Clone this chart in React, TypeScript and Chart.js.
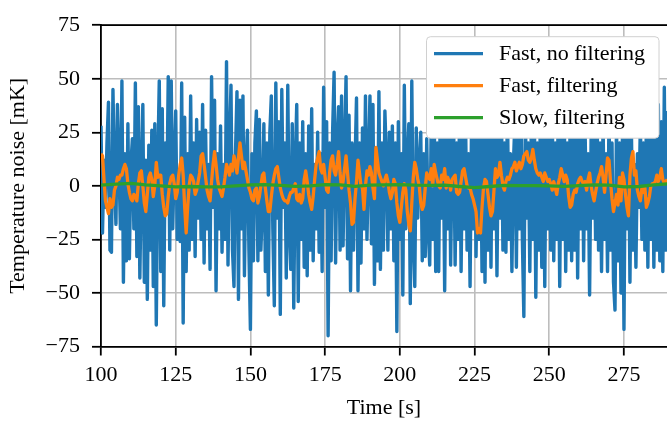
import React, { useEffect, useRef } from 'react';
import { Chart, registerables } from 'chart.js';

Chart.register(...registerables);

// Sampling grid of the recordings (seconds)
const T_START = 100;
const FAST_STEP = 0.5;
const SLOW_STEP = 5;
const X_MIN = 100;
const X_MAX = 289.4;
const X_TICK_STEP = 25;
const Y_MIN = -75;
const Y_MAX = 75;
const Y_TICK_STEP = 25;

const SERIES_LABELS = ['Fast, no filtering', 'Fast, filtering', 'Slow, filtering'];
const SERIES_COLORS = ['#1f77b4', '#ff7f0e', '#2ca02c'];
const X_TITLE = 'Time [s]';
const Y_TITLE = 'Temperature noise [mK]';

// Fast sampling, no filtering (mK), every 0.5 s from 100 s
const fastNoFiltering = [
  28, -22, 12, -10, 20, 39, -30, -31, 45, 5,
  -18, 38, 10, -20, 49, -45, 15, -35, 29, -34,
  10, 22, -20, 48, -33, 37, -43, 5, 38, -45,
  12, -53, 19, -30, 26, -47, 29, -65, 10, 49,
  -40, 36, -56, 20, -10, 51, -30, 49, -20, 10,
  35, -25, 5, -26, 48, -64, 32, -40, 15, -30,
  42, -25,
  20, -33, 31, -15, 25, -25, 38, -36, 26, -20,
  10, -39, 51, -10, 40, -49, 15, -20, 28, -31,
  10, -25, 58, -37, 20, 47, -30, -47, 15, 44,
  -53, 40, -20, 42, -42, 10, 26, -30, -67, 15,
  -35, 20, 35, -35, 31, -30, -10, 29, -40, 20,
  -51, 25, 42, -20, -56, 48, -15, 30, -60, 45,
  -10, 20, -43, 47, -20,
  -39, 29, -57, 10, 38, -54, 20, -25, 30, -38,
  15, -42, 28, -30, 36, -35, 10, -20, 25, -31,
  15, -40, 46, -10, 30, -70, 20, -35, 25, 53,
  -36, 20, 37, -30, 42, -28, 15, 51, -34, 33,
  -49, 20, -30, 10, 41, -49, 20, -36, 27, -20,
  42, -25, 10, 42, -27, 38, -46, 15, -35, 44,
  -39, 20, -30, 35,
  12, -30, 25, -20, 28, -35, 20, -68, 30, -25,
  15, -51, 47, -20, 10, 29, -55, 49, -25, -47,
  27, -15, 10, 25, -35, 15, -33, 22, -20, -37,
  30, -25, 35, -40, 20, -40, 33, -15, 28, -49,
  25, -20, 40, -37, 15, 30, -37, 20, -25, 36,
  -40, 25, -20, 30, -30, 15, -47, 30, -20, 38,
  -33, 25, -25, 30,
  -40, 30, -45, 35, -30, 25, -38, 40, -20, 30,
  -42, 28, -15, 35, -30, 20, -31, 38, -25, 15,
  -40, 10, 30, -38, 33, -20, 40, -25, -61, 35,
  -15, 20, -40, 30, -25, 38, -52, 20, -30, 30,
  -38, 25, -47, 38, -20, 30, -30, 36, -35, 20,
  -25, 35, -47, 30, -25, 40, -40, 20, -30, 32,
  -35, 25, -30, 35,
  -43, 30, -20, 35, -35, 25, -20, 15, -51, 22,
  -15, 30, -25, 35, -30, 20, -40, 30, -25, 15,
  -40, 35, -30, 20, -45, -58, 30, -35, 20, -50,
  25, -67, 30, -20, 35, -45, 25, -30, 10, -38,
  15, -10, 30, -25, 20, -30, 30, -38, 35, -25,
  40, -38, 25, -30, 38, -35, 30, -40, 46, -30,
  35,
];

// Fast sampling, filtering (mK), every 0.5 s from 100 s
const fastFiltering = [
  15, 14, 3, -7, -10, -13, -6, -10, -9, -2,
  0, 4, 3, 5, 5, 8, 10, 8, 1, -3,
  -6, -7, -4, -5, -7, 1, 6, 7, 0, -8,
  -12, -4, 4, 6, 3, -5, 0, 11, 4, 5,
  5, -4, -10, -14, -13, -5, 1, 4, 5, 1,
  -6, -3, 5, 10, 13, 5, -10, -22, -10, 0,
  5, 4,
  2, -4, -2, 2, 6, 14, 15, 10, 4, -2,
  -5, -7, 2, 10, 16, 10, 3, -1, -3, -5,
  -1, 4, 10, 8, 5, 10, 7, 14, 11, 6,
  13, 20, 14, 8, 11, 7, 3, -1, -3, -6,
  -7, -2, -1, -8, -5, 0, 5, 6, -1, -7,
  -12, -12, -5, 1, 5, 8, 9, 4, -1, -4,
  -6, -7, -7, -8, -5,
  -3, -3, -1, 1, -6, -7, -4, -8, -6, 3,
  7, 2, -4, -8, -11, -5, 3, 10, 13, 16,
  8, 6, 10, 4, -2, -3, 6, 12, 14, 7,
  5, 10, 16, 6, -1, 2, 8, 14, 6, -2,
  -8, -18, -17, -6, 2, 12, 6, 0, -1, -11,
  0, 7, 5, 9, 6, -1, -6, 18, 12, 6,
  4, 2, 0, 3,
  5, 2, -3, -6, -3, 3, 1, -8, -14, -17,
  -10, -3, 1, -2, -12, -18, -21, -8, 4, 11,
  8, 3, 0, -8, -11, -9, -1, 6, 4, 3,
  8, 0, 10, 6, 3, 0, -1, 5, 3, 8,
  -1, 4, 2, -2, 3, 4, 5, -3, -4, -3,
  2, 7, 8, 4, 0, -1, -1, -4, -6, -9,
  -12, -22, -20, -22,
  -10, -1, 3, 2, -4, -10, -14, -12, -2, 8,
  4, 5, 11, 5, 0, -2, 2, 4, 3, 5,
  8, 9, 11, 7, 9, 11, 8, 10, 14, 15,
  16, 12, 11, 13, 17, 12, 8, 6, 5, 6,
  4, 2, 6, 4, 2, 3, 1, -2, 2, -1,
  -4, 1, 4, 8, 5, 2, 5, 3, -5, -10,
  -9, -4, -2, -3,
  1, 3, 4, 2, 1, 2, -2, 3, 6, 0,
  -4, -7, -3, 1, 4, 6, 9, 4, -3, 5,
  13, 12, 2, -6, -12, -8, -4, -9, 4, -7,
  6, 3, -4, -10, -14, 5, 13, 16, 5, 7,
  -2, -5, -7, -1, -3, -1, -10, -8, -5, 0,
  1, 1, 2, 5, 2, 4, 8, 3, 1, 2,
  3,
];

// Slow sampling, filtering (mK), every 5 s from 100 s
const slowFiltering = [
  0.3, 0.8, 1.2, 0.5, 0, -0.5, -0.3, -0.5, -0.5, 0,
  0.5, 0.6, 0.2, -0.2, 0, 0.6, 0.5, -0.2, 0.3, 0.5,
  0.6, 0.3, 0.2, 0.3, -0.3, -0.8, -0.3, 0.2, 0.1, 0.1,
  0, -0.2, 0.1, 0.5, 0.3, -0.5, -0.3, 0.5, 1.0,
];

const FONT_FAMILY = "'Liberation Serif', 'DejaVu Serif', serif";
const FONT_SIZE = 22;

const toPoints = (values: number[], step: number) =>
  values.map((v, i) => ({ x: T_START + i * step, y: v }));

const fmtTick = (v: number | string) => {
  const n = Number(v);
  return n < 0 ? '\u2212' + Math.abs(n) : String(n);
};

const overlayPlugin = {
  id: 'overlay',
  afterDatasetsDraw(chart: any) {
    const { ctx, chartArea } = chart;
    ctx.save();
    // top spine
    ctx.strokeStyle = '#000';
    ctx.lineWidth = 1.8;
    ctx.beginPath();
    ctx.moveTo(chartArea.left - 0.9, chartArea.top);
    ctx.lineTo(chartArea.right, chartArea.top);
    ctx.stroke();

    // legend box
    const w = 232.5;
    const h = 101.5;
    const x = chartArea.right - 8 - w;
    const y = chartArea.top + 11.5;
    ctx.beginPath();
    if (ctx.roundRect) ctx.roundRect(x, y, w, h, 4);
    else ctx.rect(x, y, w, h);
    ctx.fillStyle = '#ffffff';
    ctx.fill();
    ctx.strokeStyle = '#d0d0d0';
    ctx.lineWidth = 1;
    ctx.stroke();

    ctx.font = `${FONT_SIZE}px ${FONT_FAMILY}`;
    ctx.textBaseline = 'middle';
    ctx.textAlign = 'left';
    SERIES_LABELS.forEach((label, i) => {
      const ry = y + 17 + i * 32;
      ctx.strokeStyle = SERIES_COLORS[i];
      ctx.lineWidth = 3.3;
      ctx.beginPath();
      ctx.moveTo(x + 7.5, ry);
      ctx.lineTo(x + 56.5, ry);
      ctx.stroke();
      ctx.fillStyle = '#000';
      ctx.fillText(label, x + 72.5, ry + 1);
    });
    ctx.restore();
  },
};

export default function App() {
  const canvasRef = useRef<HTMLCanvasElement | null>(null);

  useEffect(() => {
    const canvas = canvasRef.current;
    if (!canvas) return;
    const font = { family: FONT_FAMILY, size: FONT_SIZE };
    const chart = new Chart(canvas, {
      type: 'line',
      data: {
        datasets: [
          {
            label: SERIES_LABELS[0],
            data: toPoints(fastNoFiltering, FAST_STEP),
            borderColor: SERIES_COLORS[0],
            borderWidth: 3.4,
            order: 3,
          },
          {
            label: SERIES_LABELS[1],
            data: toPoints(fastFiltering, FAST_STEP),
            borderColor: SERIES_COLORS[1],
            borderWidth: 3.3,
            order: 2,
          },
          {
            label: SERIES_LABELS[2],
            data: toPoints(slowFiltering, SLOW_STEP),
            borderColor: SERIES_COLORS[2],
            borderWidth: 3.3,
            order: 1,
          },
        ],
      },
      options: {
        animation: false,
        responsive: false,
        devicePixelRatio: 1,
        events: [],
        layout: { padding: { top: 17, left: 0, right: 0, bottom: 0 } },
        elements: {
          point: { radius: 0 },
          line: { tension: 0, borderJoinStyle: 'round', fill: false },
        },
        datasets: { line: { clip: 0 } as any },
        plugins: {
          legend: { display: false },
          tooltip: { enabled: false },
        },
        scales: {
          x: {
            type: 'linear',
            min: X_MIN,
            max: X_MAX,
            ticks: {
              stepSize: X_TICK_STEP,
              includeBounds: false,
              autoSkip: false,
              maxRotation: 0,
              font,
              color: '#000',
              padding: 7,
              callback: (v: any) => fmtTick(v),
            },
            grid: {
              color: '#bdbdbd',
              lineWidth: 1.6,
              tickColor: '#000',
              tickLength: 9,
              tickWidth: 1.8,
            },
            border: { color: '#000', width: 1.8 },
            title: {
              display: true,
              text: X_TITLE,
              font,
              color: '#000',
              padding: { top: 0, bottom: 1 },
            },
            afterFit: (s: any) => {
              s.height = 75.5;
            },
          },
          y: {
            type: 'linear',
            min: Y_MIN,
            max: Y_MAX,
            ticks: {
              stepSize: Y_TICK_STEP,
              font,
              color: '#000',
              padding: 12,
              callback: (v: any) => fmtTick(v),
            },
            grid: {
              color: '#bdbdbd',
              lineWidth: 1.6,
              tickColor: '#000',
              tickLength: 9,
              tickWidth: 1.8,
            },
            border: { color: '#000', width: 1.8 },
            title: {
              display: true,
              text: Y_TITLE,
              font,
              color: '#000',
              padding: { top: 5, bottom: 5 },
            },
            afterFit: (s: any) => {
              s.width = 101;
            },
          },
        },
      },
      plugins: [overlayPlugin],
    } as any);
    return () => chart.destroy();
  }, []);

  return (
    <div style={{ position: 'absolute', left: 0, top: 0, width: 667, height: 422 }}>
      <canvas ref={canvasRef} width={667} height={422} style={{ display: 'block' }} />
    </div>
  );
}
